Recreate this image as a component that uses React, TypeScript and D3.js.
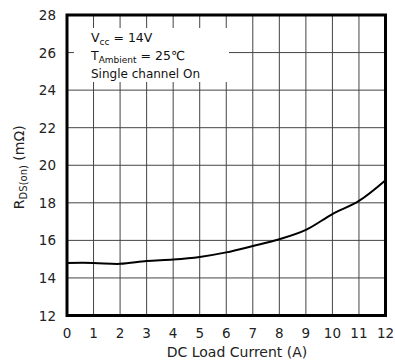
import React from "react";
import * as d3 from "d3";

const currents = [0, 1, 2, 3, 4, 5, 6, 7, 8, 9, 10, 11, 12];
const rdsOn = [14.8, 14.8, 14.75, 14.9, 14.98, 15.12, 15.36, 15.7, 16.06, 16.56, 17.4, 18.1, 19.2];
const xTicks = [0, 1, 2, 3, 4, 5, 6, 7, 8, 9, 10, 11, 12];
const yTicks = [12, 14, 16, 18, 20, 22, 24, 26, 28];

const W = 395, H = 362;
const L = 67, R = 385.5, T = 15, B = 315.5;
const FONT = "'DejaVu Sans', sans-serif";

export default function App() {
  const x = d3.scaleLinear().domain([0, 12]).range([L, R]);
  const y = d3.scaleLinear().domain([12, 28]).range([B, T]);
  const line = d3
    .line<number>()
    .x((_, i) => x(currents[i]))
    .y((d) => y(d))
    .curve(d3.curveCatmullRom.alpha(0.5));

  return (
    <svg
      width={W}
      height={H}
      style={{ position: "absolute", left: 0, top: 0, background: "#fff" }}
      fontFamily={FONT}
    >
      <rect x={0} y={0} width={W} height={H} fill="#fff" />
      {xTicks.map((t) => (
        <line key={"gx" + t} x1={x(t)} x2={x(t)} y1={T} y2={B} stroke="#444" strokeWidth={1} />
      ))}
      {yTicks.map((t) => (
        <line key={"gy" + t} x1={L} x2={R} y1={y(t)} y2={y(t)} stroke="#444" strokeWidth={1} />
      ))}
      <rect x={74} y={28} width={155} height={54} fill="#fff" />
      <path d={line(rdsOn) || ""} fill="none" stroke="#000" strokeWidth={2} />
      <rect x={L} y={T} width={R - L} height={B - T} fill="none" stroke="#000" strokeWidth={3} />
      {yTicks.map((t) => (
        <text key={"ty" + t} x={56} y={y(t) + 5} textAnchor="end" fontSize={13.5} fill="#222">
          {t}
        </text>
      ))}
      {xTicks.map((t) => (
        <text key={"tx" + t} x={x(t)} y={338} textAnchor="middle" fontSize={13.5} fill="#222">
          {t}
        </text>
      ))}
      <text x={237} y={357} textAnchor="middle" fontSize={14} fill="#222">
        DC Load Current (A)
      </text>
      <text transform={`translate(24,${(T + B) / 2 + 2}) rotate(-90)`} textAnchor="middle" fontSize={14} fill="#222">
        R<tspan fontSize={10} dy={3}>DS(on)</tspan>
        <tspan dy={-3}> (mΩ)</tspan>
      </text>
      <text x={91} y={42} fontSize={12.5} fill="#111">
        V<tspan fontSize={9} dy={3}>cc</tspan>
        <tspan dy={-3}> = 14V</tspan>
      </text>
      <text x={91} y={60} fontSize={12.5} fill="#111">
        T<tspan fontSize={9} dy={3}>Ambient</tspan>
        <tspan dy={-3}> = 25℃</tspan>
      </text>
      <text x={91} y={78} fontSize={12} fill="#111">
        Single channel On
      </text>
    </svg>
  );
}
